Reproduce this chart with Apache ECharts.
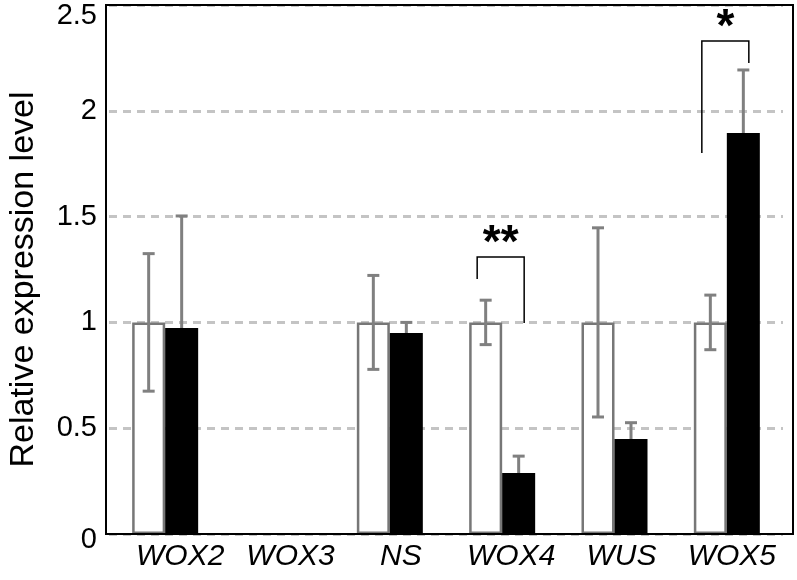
<!DOCTYPE html>
<html>
<head>
<meta charset="utf-8">
<script src="https://cdn.jsdelivr.net/npm/echarts@6/dist/echarts.min.js"></script>
<style>
html,body{margin:0;padding:0;background:#fff;}
#chart{width:797px;height:580px;}
</style>
</head>
<body>
<div id="chart"></div>
<script>
// ---- data ----
const categories = ['WOX2', 'WOX3', 'NS', 'WOX4', 'WUS', 'WOX5'];
const controlMean = [1.0, null, 1.0, 1.0, 1.0, 1.0];
const controlErr  = [0.325, null, 0.222, 0.105, 0.447, 0.129];
const treatedMean = [0.973, null, 0.95, 0.288, 0.449, 1.895];
const treatedErr  = [0.53, null, 0.05, 0.08, 0.077, 0.298];
const yTicks = [0, 0.5, 1, 1.5, 2, 2.5];
const sigCategory = ['WOX4', 'WOX5'];
const sigLeftY  = [1.205, 1.80];
const sigTopY   = [1.309, 2.33];
const sigRightY = [0.997, 2.226];
const sigLabel  = ['**', '*'];

const FONT = 'Liberation Sans, Arial, Helvetica, sans-serif';
const BAR_W = 33;
const YMIN = yTicks[0], YMAX = yTicks[yTicks.length - 1];

const chart = echarts.init(document.getElementById('chart'), null, {renderer: 'canvas'});

const ctrlErrData = [], trtErrData = [];
categories.forEach((c, i) => {
  if (controlMean[i] != null) ctrlErrData.push([i, controlMean[i], controlErr[i]]);
  if (treatedMean[i] != null) trtErrData.push([i, treatedMean[i], treatedErr[i]]);
});
const sigData = sigCategory.map((c, k) => [categories.indexOf(c), sigLeftY[k], sigTopY[k], sigRightY[k], sigLabel[k]]);

function errRender(offset) {
  return function (params, api) {
    const i = api.value(0), m = api.value(1), e = api.value(2);
    const top = api.coord([i, m + e]);
    const bot = api.coord([i, m - e]);
    const x = top[0] + offset;
    const st = {stroke: '#808080', lineWidth: 3};
    return {
      type: 'group',
      children: [
        {type: 'line', shape: {x1: x, y1: top[1], x2: x, y2: bot[1]}, style: st},
        {type: 'line', shape: {x1: x - 6, y1: top[1], x2: x + 6, y2: top[1]}, style: st},
        {type: 'line', shape: {x1: x - 6, y1: bot[1], x2: x + 6, y2: bot[1]}, style: st}
      ]
    };
  };
}

const tickFont = {fontFamily: FONT, fontSize: 29, color: '#000'};

chart.setOption({
  animation: false,
  backgroundColor: '#fff',
  grid: [
    {left: 109, right: 14, top: 5, bottom: 46, outerBoundsMode: 'none', containLabel: false},
    {left: 125, right: 10, top: 5, bottom: 46, outerBoundsMode: 'none', containLabel: false}
  ],
  xAxis: [
    {type: 'category', gridIndex: 0, data: categories,
     axisLine: {show: false}, axisTick: {show: false}, axisLabel: {show: false}, splitLine: {show: false}},
    {type: 'category', gridIndex: 1, data: categories,
     axisLine: {show: false}, axisTick: {show: false}, splitLine: {show: false},
     axisLabel: {show: true, interval: 0, hideOverlap: false, fontFamily: FONT, fontStyle: 'italic', fontSize: 30, color: '#000', margin: 8}}
  ],
  yAxis: [
    {type: 'value', gridIndex: 0, min: YMIN, max: YMAX, interval: yTicks[1] - yTicks[0],
     axisLine: {show: false}, axisTick: {show: false},
     axisLabel: Object.assign({margin: 12,
       formatter: function (v) {
         if (v === YMAX) return '{t|' + v + '}';
         if (v === YMIN) return '{b|' + v + '}';
         return String(v);
       },
       rich: {
         t: Object.assign({padding: [22, 0, 0, 0]}, tickFont),
         b: Object.assign({padding: [12, 0, 0, 0]}, tickFont)
       }}, tickFont),
     splitLine: {show: true, lineStyle: {color: '#c4c4c4', width: 3, type: [8, 6]}},
     name: 'Relative expression level', nameLocation: 'middle', nameGap: 68,
     nameTextStyle: {fontFamily: FONT, fontSize: 34, color: '#000', padding: [0, 20, 0, 0]}},
    {type: 'value', gridIndex: 1, min: 0, max: 2.5, show: false}
  ],
  series: [
    {type: 'bar', name: 'control', xAxisIndex: 0, yAxisIndex: 0, data: controlMean, barWidth: BAR_W, barGap: '0%', z: 1,
     itemStyle: {color: '#fff', borderColor: '#777', borderWidth: 2.5}},
    {type: 'bar', name: 'treated', xAxisIndex: 0, yAxisIndex: 0, data: treatedMean, barWidth: BAR_W, barGap: '0%', z: 3,
     itemStyle: {color: '#000', borderColor: '#000', borderWidth: 0}},
    {type: 'custom', xAxisIndex: 0, yAxisIndex: 0, data: ctrlErrData, z: 2, renderItem: errRender(-BAR_W / 2)},
    {type: 'custom', xAxisIndex: 0, yAxisIndex: 0, data: trtErrData, z: 2, renderItem: errRender(BAR_W / 2)},
    {type: 'custom', xAxisIndex: 0, yAxisIndex: 0, data: sigData, z: 5,
     renderItem: function (params, api) {
       const i = api.value(0);
       const l = api.coord([i, api.value(1)]);
       const t = api.coord([i, api.value(2)]);
       const r = api.coord([i, api.value(3)]);
       const xl = l[0] - 25, xr = l[0] + 22;
       return {
         type: 'group',
         children: [
           {type: 'polyline', shape: {points: [[xl, l[1]], [xl, t[1]], [xr, t[1]], [xr, r[1]]]},
            style: {stroke: '#000', lineWidth: 1.5, fill: null}},
           {type: 'text', style: {x: (xl + xr) / 2, y: t[1] + 10, text: api.value(4), fontFamily: FONT,
            fontSize: 46, fontWeight: 'bold', fill: '#000', align: 'center', verticalAlign: 'bottom'}}
         ]
       };
     }}
  ],
  graphic: [
    {type: 'rect', z: 100, shape: {x: 106, y: 5, width: 687, height: 529},
     style: {fill: null, stroke: '#000', lineWidth: 2}}
  ]
});
</script>
</body>
</html>
